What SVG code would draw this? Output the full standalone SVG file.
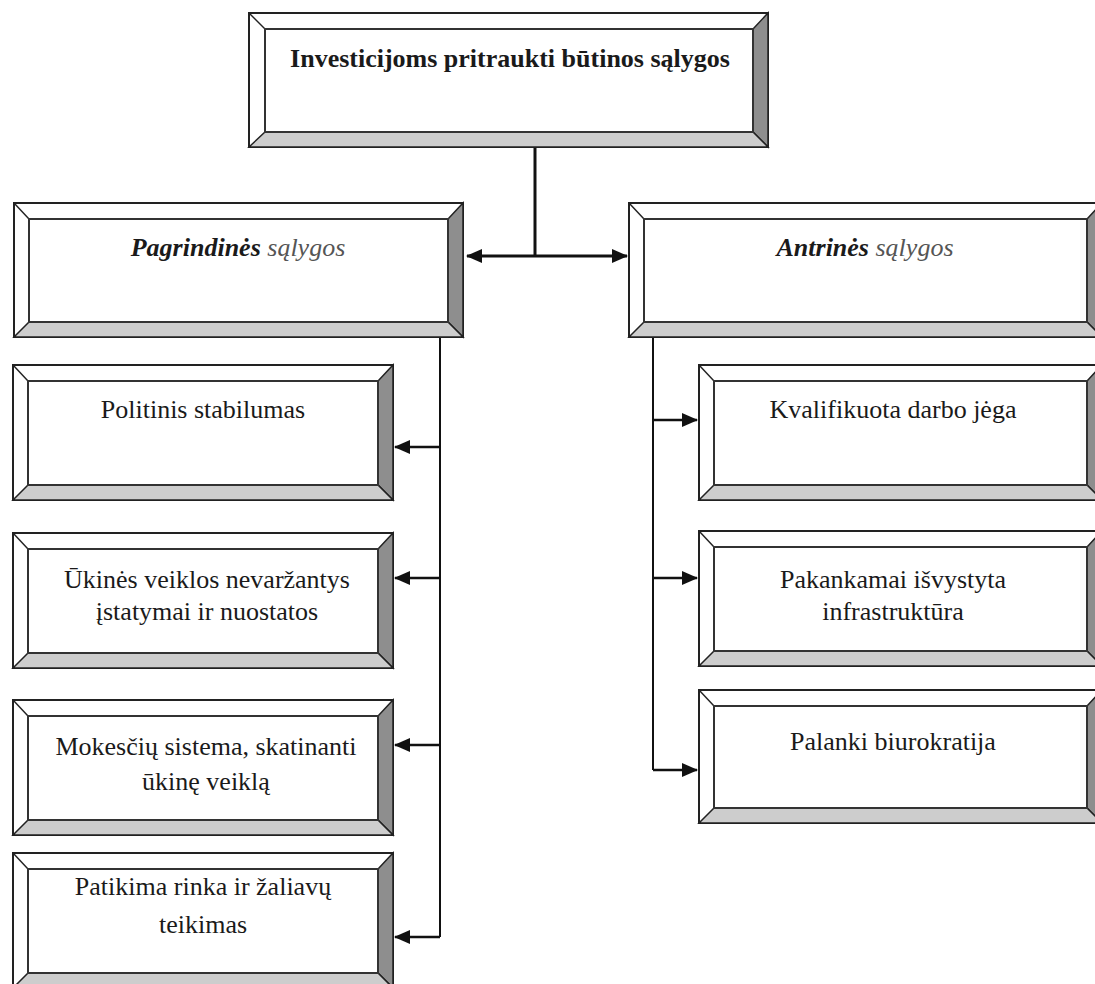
<svg xmlns="http://www.w3.org/2000/svg" width="1095" height="984" viewBox="0 0 1095 984">
<defs>
<marker id="ah" markerUnits="userSpaceOnUse" markerWidth="16" markerHeight="14" refX="15" refY="7" orient="auto">
<path d="M0,0 L16,7 L0,14 Z" fill="#111"/>
</marker>
<style>
.o{fill:#fff;stroke:#222;stroke-width:2}
.i{fill:#fff;stroke:#333;stroke-width:2}
.r{fill:#8e8e8e;stroke:#222;stroke-width:1.5}
.b{fill:#cdcdcd;stroke:#222;stroke-width:1.5}
.d{stroke:#222;stroke-width:1.5}
.t{font-family:"Liberation Serif","Times New Roman",serif;font-size:26px;fill:#1a1a1a;text-anchor:middle}
.h{font-weight:bold;font-size:26px}
.c{stroke:#111;fill:none}
</style>
</defs>
<rect width="1095" height="984" fill="#fff"/>
<g id="connectors">
<path class="c" stroke-width="3" d="M535,147 V256"/>
<path class="c" stroke-width="3" d="M535,256 H467" marker-end="url(#ah)"/>
<path class="c" stroke-width="3" d="M535,256 H627" marker-end="url(#ah)"/>
<path class="c" stroke-width="2" d="M440,337 V937"/>
<path class="c" stroke-width="2.5" d="M440,447 H395" marker-end="url(#ah)"/>
<path class="c" stroke-width="2.5" d="M440,578 H395" marker-end="url(#ah)"/>
<path class="c" stroke-width="2.5" d="M440,745 H395" marker-end="url(#ah)"/>
<path class="c" stroke-width="2.5" d="M440,937 H395" marker-end="url(#ah)"/>
<path class="c" stroke-width="2" d="M653,337 V770"/>
<path class="c" stroke-width="2.5" d="M653,420 H697" marker-end="url(#ah)"/>
<path class="c" stroke-width="2.5" d="M653,578 H697" marker-end="url(#ah)"/>
<path class="c" stroke-width="2.5" d="M653,770 H697" marker-end="url(#ah)"/>
</g>
<g id="top">
<rect class="o" x="249" y="13" width="519" height="134"/>
<path class="r" d="M768,13 V147 L753,132 V29 Z"/>
<path class="b" d="M249,147 H768 L753,132 H265 Z"/>
<line class="d" x1="249" y1="13" x2="265" y2="29"/>
<rect class="i" x="265" y="29" width="488" height="103" fill="none"/>
<text class="t h" x="510" y="67">Investicijoms pritraukti būtinos sąlygos</text>
</g>
<g id="pagrindines">
<rect class="o" x="14" y="203" width="449" height="134"/>
<path class="r" d="M463,203 V337 L448,322 V219 Z"/>
<path class="b" d="M14,337 H463 L448,322 H29 Z"/>
<line class="d" x1="14" y1="203" x2="29" y2="219"/>
<rect class="i" x="29" y="219" width="419" height="103" fill="none"/>
<text class="t" x="238" y="256" font-style="italic"><tspan font-weight="bold">Pagrindinės</tspan> <tspan fill="#555">sąlygos</tspan></text>
</g>
<g id="antrines">
<rect class="o" x="629" y="203" width="473" height="134"/>
<path class="r" d="M1102,203 V337 L1087,322 V219 Z"/>
<path class="b" d="M629,337 H1102 L1087,322 H644 Z"/>
<line class="d" x1="629" y1="203" x2="644" y2="219"/>
<rect class="i" x="644" y="219" width="443" height="103" fill="none"/>
<text class="t" x="865" y="256" font-style="italic"><tspan font-weight="bold">Antrinės</tspan> <tspan fill="#555">sąlygos</tspan></text>
</g>
<g id="politinis">
<rect class="o" x="13" y="365" width="380" height="135"/>
<path class="r" d="M393,365 V500 L378,485 V381 Z"/>
<path class="b" d="M13,500 H393 L378,485 H28 Z"/>
<line class="d" x1="13" y1="365" x2="28" y2="381"/>
<rect class="i" x="28" y="381" width="350" height="104" fill="none"/>
<text class="t" x="203" y="418">Politinis stabilumas</text>
</g>
<g id="ukines">
<rect class="o" x="13" y="533" width="380" height="135"/>
<path class="r" d="M393,533 V668 L378,653 V549 Z"/>
<path class="b" d="M13,668 H393 L378,653 H28 Z"/>
<line class="d" x1="13" y1="533" x2="28" y2="549"/>
<rect class="i" x="28" y="549" width="350" height="104" fill="none"/>
<text class="t" x="207" y="588">Ūkinės veiklos nevaržantys</text>
<text class="t" x="207" y="620">įstatymai ir nuostatos</text>
</g>
<g id="mokesciu">
<rect class="o" x="13" y="700" width="380" height="135"/>
<path class="r" d="M393,700 V835 L378,820 V716 Z"/>
<path class="b" d="M13,835 H393 L378,820 H28 Z"/>
<line class="d" x1="13" y1="700" x2="28" y2="716"/>
<rect class="i" x="28" y="716" width="350" height="104" fill="none"/>
<text class="t" x="206" y="755">Mokesčių sistema, skatinanti</text>
<text class="t" x="206" y="790">ūkinę veiklą</text>
</g>
<g id="patikima">
<rect class="o" x="13" y="853" width="380" height="135"/>
<path class="r" d="M393,853 V988 L378,973 V869 Z"/>
<path class="b" d="M13,988 H393 L378,973 H28 Z"/>
<line class="d" x1="13" y1="853" x2="28" y2="869"/>
<rect class="i" x="28" y="869" width="350" height="104" fill="none"/>
<text class="t" x="203" y="895">Patikima rinka ir žaliavų</text>
<text class="t" x="203" y="933">teikimas</text>
</g>
<g id="kvalifikuota">
<rect class="o" x="699" y="365" width="403" height="135"/>
<path class="r" d="M1102,365 V500 L1087,485 V381 Z"/>
<path class="b" d="M699,500 H1102 L1087,485 H714 Z"/>
<line class="d" x1="699" y1="365" x2="714" y2="381"/>
<rect class="i" x="714" y="381" width="373" height="104" fill="none"/>
<text class="t" x="893" y="418">Kvalifikuota darbo jėga</text>
</g>
<g id="infrastruktura">
<rect class="o" x="699" y="531" width="403" height="135"/>
<path class="r" d="M1102,531 V666 L1087,651 V547 Z"/>
<path class="b" d="M699,666 H1102 L1087,651 H714 Z"/>
<line class="d" x1="699" y1="531" x2="714" y2="547"/>
<rect class="i" x="714" y="547" width="373" height="104" fill="none"/>
<text class="t" x="893" y="588">Pakankamai išvystyta</text>
<text class="t" x="893" y="620">infrastruktūra</text>
</g>
<g id="biurokratija">
<rect class="o" x="699" y="690" width="403" height="133"/>
<path class="r" d="M1102,690 V823 L1087,808 V706 Z"/>
<path class="b" d="M699,823 H1102 L1087,808 H714 Z"/>
<line class="d" x1="699" y1="690" x2="714" y2="706"/>
<rect class="i" x="714" y="706" width="373" height="102" fill="none"/>
<text class="t" x="893" y="750">Palanki biurokratija</text>
</g>
</svg>
